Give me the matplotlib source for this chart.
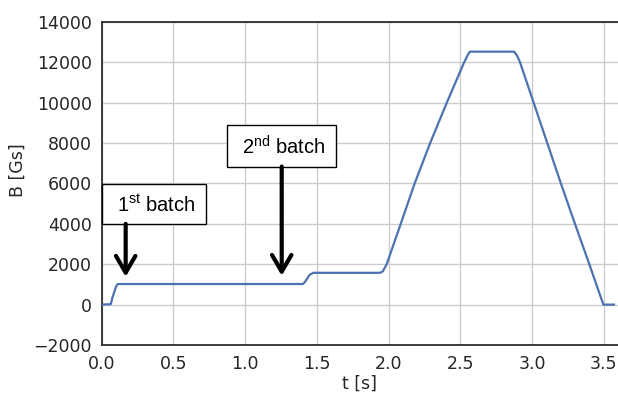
import numpy as np
import matplotlib
matplotlib.use("Agg")
from matplotlib import pyplot as plt
from matplotlib.patches import Rectangle

# field ramp
t = [0.0, 0.063, 0.075, 0.100, 0.112, 1.402, 1.415, 1.450, 1.476,
     1.941, 1.960, 1.987, 2.085, 2.182, 2.290, 2.406, 2.527, 2.555, 2.568,
     2.875, 2.895, 2.917, 3.012, 3.107, 3.202, 3.300, 3.400, 3.498, 3.572]
B = [0, 20, 350, 900, 1020, 1020, 1100, 1480, 1575,
     1575, 1650, 2000, 4000, 6000, 8000, 10000, 12000, 12400, 12530,
     12530, 12350, 12000, 10000, 8000, 6000, 4000, 2000, 0, 0]

xticks = [0.0, 0.5, 1.0, 1.5, 2.0, 2.5, 3.0, 3.5]
yticks = [-2000, 0, 2000, 4000, 6000, 8000, 10000, 12000, 14000]

# annotation boxes: (x0, x1, y0, y1), label, arrow x, arrow tip y
box_extent = [(0.0, 0.725, 4000, 5970), (0.876, 1.636, 6840, 8873)]
box_label = [r"1$^{\mathrm{st}}$ batch", r"2$^{\mathrm{nd}}$ batch"]
arrow_x = [0.167, 1.255]
arrow_tip = [1380, 1430]

plt.rcParams['mathtext.fontset'] = 'custom'
plt.rcParams['mathtext.rm'] = 'Liberation Sans'

fig = plt.figure(figsize=(6.18, 3.94), dpi=100)
ax = fig.add_axes([0.1646, 0.1244, 0.8354, 0.8198])

ax.plot(t, B, color='#4c72b0', lw=1.6, zorder=3)

ax.set_xlim(0, 3.6)
ax.set_ylim(-2000, 14000)
ax.set_xticks(xticks)
ax.set_yticks(yticks)
ax.set_xticklabels(["%.1f" % v for v in xticks])
ax.set_yticklabels(["\u2212%d" % -v if v < 0 else "%d" % v for v in yticks])
ax.grid(True, color='#cccccc', lw=1.0, zorder=0)
ax.tick_params(length=0, labelsize=12.5, labelcolor='#262626', pad=7)
for s in ['left', 'bottom', 'top']:
    ax.spines[s].set_color('#262626')
    ax.spines[s].set_linewidth(1.25)
ax.spines['right'].set_visible(False)

ax.set_xlabel("t [s]", fontsize=12.5, color='#262626')
ax.set_ylabel("B [Gs]", fontsize=12.5, color='#262626')
ax.xaxis.set_label_coords(0.5, -0.092)
ax.yaxis.set_label_coords(-0.145, 0.54)

for (x0, x1, y0, y1), lab, ax_x, tip in zip(box_extent, box_label, arrow_x, arrow_tip):
    ax.add_patch(Rectangle((x0, y0), x1 - x0, y1 - y0, facecolor='white',
                           edgecolor='black', lw=1.0, zorder=5, clip_on=False))
    ax.text((x0 + x1) / 2 + 0.015, (y0 + y1) / 2 - 50, lab, ha='center', va='center',
            fontsize=14.5, family='Liberation Sans', zorder=6)
    ax.annotate("", xy=(ax_x, tip), xytext=(ax_x, y0),
                arrowprops=dict(arrowstyle="->,head_length=1.2,head_width=0.7",
                                lw=3, color='black', shrinkA=0, shrinkB=0),
                zorder=6)

fig.savefig("out.png", dpi=100)
